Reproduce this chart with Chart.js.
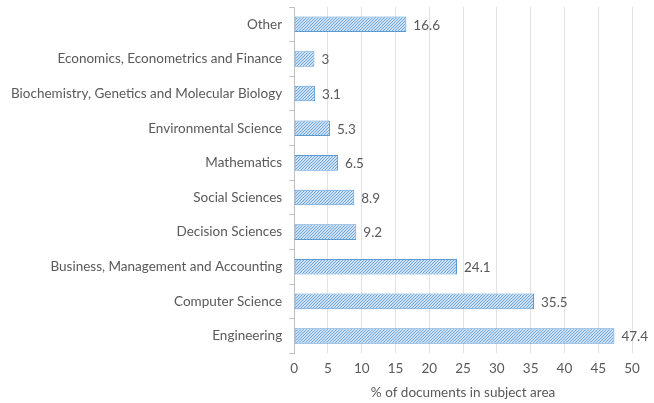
<!DOCTYPE html>
<html>
<head>
<meta charset="utf-8">
<script src="https://cdn.jsdelivr.net/npm/chart.js@4.4.1/dist/chart.umd.min.js"></script>
<style>
  html, body { margin: 0; padding: 0; background: #fff; }
  #wrap { width: 654px; height: 403px; }
</style>
</head>
<body>
<div id="wrap"><canvas id="chart"></canvas></div>
<script>
const categories = [
  'Other',
  'Economics, Econometrics and Finance',
  'Biochemistry, Genetics and Molecular Biology',
  'Environmental Science',
  'Mathematics',
  'Social Sciences',
  'Decision Sciences',
  'Business, Management and Accounting',
  'Computer Science',
  'Engineering'
]
const shares = [16.6, 3, 3.1, 5.3, 6.5, 8.9, 9.2, 24.1, 35.5, 47.4]
const xTicks = [0, 5, 10, 15, 20, 25, 30, 35, 40, 45, 50]

const textColor = '#595959'
const fontFamily = 'Lato, "Open Sans", sans-serif'
const fontSize = 13.5

// diagonal hatch like the office chart fill
const makeHatch = () => {
  const c = document.createElement('canvas')
  c.width = 3
  c.height = 3
  const g = c.getContext('2d')
  g.fillStyle = '#cfe1f5'
  g.fillRect(0, 0, 3, 3)
  g.strokeStyle = '#6fa6dc'
  g.lineWidth = 1
  g.beginPath()
  g.moveTo(0, 3); g.lineTo(3, 0)
  g.moveTo(-1, 1); g.lineTo(1, -1)
  g.moveTo(2, 4); g.lineTo(4, 2)
  g.stroke()
  return g.createPattern(c, 'repeat')
}

const valueLabels = {
  id: 'valueLabels',
  afterDatasetsDraw(chart) {
    const ctx = chart.ctx
    ctx.save()
    ctx.font = fontSize + 'px ' + fontFamily
    ctx.fillStyle = textColor
    ctx.textBaseline = 'middle'
    ctx.textAlign = 'left'
    chart.getDatasetMeta(0).data.forEach((bar, i) => {
      ctx.fillText(String(shares[i]), bar.x + 7, bar.y + 1)
    })
    ctx.restore()
  }
}

const chart = new Chart(document.getElementById('chart'), {
  type: 'bar',
  data: {
    labels: categories,
    datasets: [{
      data: shares,
      backgroundColor: makeHatch(),
      borderColor: '#5b9bd5',
      borderWidth: 1,
      borderSkipped: false,
      categoryPercentage: 1,
      barPercentage: 0.45
    }]
  },
  options: {
    indexAxis: 'y',
    responsive: true,
    maintainAspectRatio: false,
    animation: false,
    layout: { padding: { top: 7, right: 22, bottom: 2, left: 4 } },
    plugins: {
      legend: { display: false },
      tooltip: { enabled: false }
    },
    scales: {
      x: {
        min: 0,
        max: 50,
        afterBuildTicks: axis => { axis.ticks = xTicks.map(v => ({ value: v })) },
        grid: { color: '#e3e3e3', drawTicks: false },
        border: { display: false },
        ticks: { color: textColor, font: { family: fontFamily, size: fontSize, lineHeight: 1 }, padding: 9 },
        title: {
          display: true,
          text: '% of documents in subject area',
          color: textColor,
          font: { family: fontFamily, size: fontSize },
          padding: { top: 0, bottom: 0 }
        }
      },
      y: {
        afterFit: axis => { axis.paddingTop = 0; axis.paddingBottom = 0 },
        grid: { drawOnChartArea: false, color: '#bfbfbf', tickLength: 5 },
        border: { display: true, color: '#bfbfbf' },
        ticks: { color: textColor, font: { family: fontFamily, size: fontSize }, padding: 7 }
      }
    }
  },
  plugins: [valueLabels]
})
</script>
</body>
</html>
